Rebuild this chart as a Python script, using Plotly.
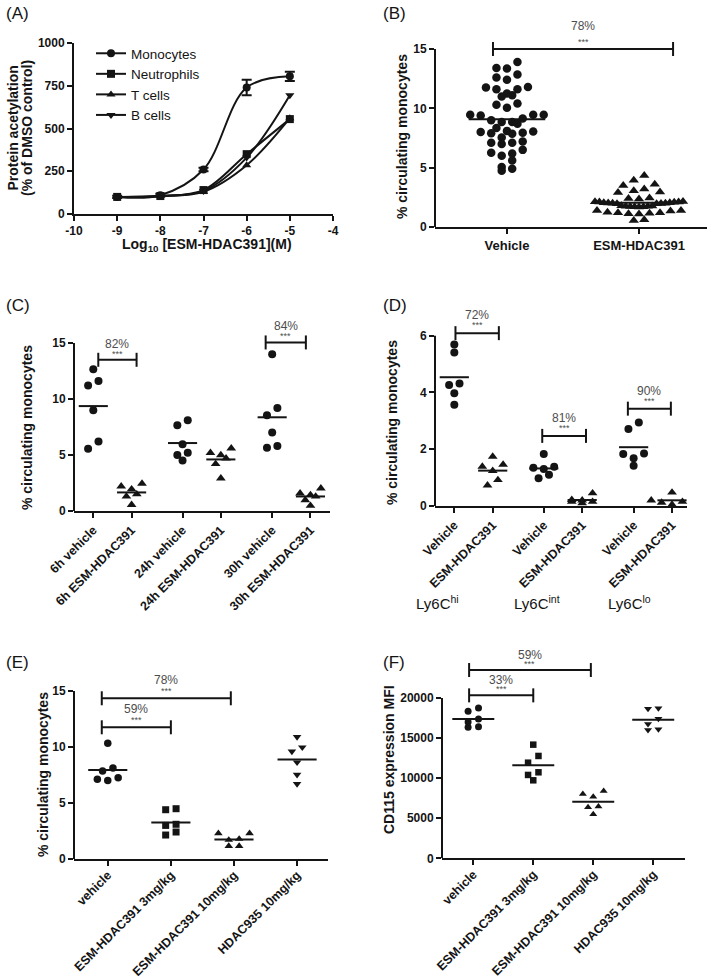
import numpy as np
import plotly.graph_objects as go

W, H = 709, 978
FONT = "Liberation Sans, Arial, Helvetica, sans-serif"
INK = "#141414"
GREY = "#4d4d4d"

# ---------------- data ----------------
# (A) protein acetylation dose response
a_logconc = [-9, -8, -7, -6, -5]
a_monocytes = [100, 110, 260, 740, 805]
a_monocytes_err = [6, 8, 10, 45, 27]
a_neutrophils = [100, 105, 140, 350, 555]
a_tcells = [100, 105, 130, 285, 560]
a_bcells = [100, 105, 135, 330, 695]
a_names = ["Monocytes", "Neutrophils", "T cells", "B cells"]
a_xticks = [-10, -9, -8, -7, -6, -5, -4]
a_yticks = [0, 250, 500, 750, 1000]

# (B) % circulating monocytes, vehicle vs ESM-HDAC391
b_labels = ["Vehicle", "ESM-HDAC391"]
b_vehicle = [13.9, 13.4, 13.35, 12.85, 12.6, 12.4, 11.8, 11.75, 11.6, 11.6, 11.25,
             11.1, 11.0, 10.4, 10.3, 10.05, 9.45, 9.45, 9.45, 9.4, 9.15, 9.0, 8.85,
             8.85, 8.7, 8.35, 8.1, 8.05, 8.0, 7.95, 7.9, 7.85, 7.55, 7.2, 7.1, 7.1,
             7.0, 6.5, 6.25, 6.2, 6.0, 5.6, 5.05, 4.9, 4.75]
b_esm = [4.35, 3.95, 3.6, 3.5, 3.2, 3.05, 2.95, 2.9, 2.45, 2.4, 2.35,
         2.15, 2.12, 2.1, 2.1, 2.08, 2.05, 2.05, 2.03, 2.0, 2.0, 1.98, 1.95, 1.95,
         1.8, 1.78, 1.75, 1.75, 1.72, 1.7, 1.7, 1.68,
         1.4, 1.38, 1.35, 1.25, 1.2, 1.2, 1.15, 1.12, 1.1, 0.62, 0.55]
b_pct = ["78%"]
b_yticks = [0, 5, 10, 15]

# (C) time course
c_labels = ["6h vehicle", "6h ESM-HDAC391", "24h vehicle", "24h ESM-HDAC391",
            "30h vehicle", "30h ESM-HDAC391"]
c_6h_vehicle = [12.65, 11.6, 11.2, 9.0, 6.2, 5.55]
c_6h_esm = [2.45, 2.2, 1.95, 1.5, 1.3, 0.55]
c_24h_vehicle = [8.1, 7.65, 5.95, 5.2, 5.0, 4.5]
c_24h_esm = [5.6, 5.2, 5.0, 4.7, 4.2, 2.92]
c_30h_vehicle = [14.0, 9.2, 8.55, 7.0, 5.8, 5.65]
c_30h_esm = [2.03, 1.58, 1.43, 1.3, 0.98, 0.47]
c_pct = ["82%", "84%"]
c_yticks = [0, 5, 10, 15]

# (D) monocyte subsets
d_labels = ["Vehicle", "ESM-HDAC391", "Vehicle", "ESM-HDAC391", "Vehicle", "ESM-HDAC391"]
d_groups = ["Ly6C<sup>hi</sup>", "Ly6C<sup>int</sup>", "Ly6C<sup>lo</sup>"]
d_hi_vehicle = [5.69, 5.41, 4.32, 4.26, 3.97, 3.57]
d_hi_esm = [1.74, 1.46, 1.39, 1.24, 0.92, 0.73]
d_int_vehicle = [1.83, 1.38, 1.35, 1.3, 1.1, 0.98]
d_int_esm = [0.45, 0.22, 0.2, 0.15, 0.15, 0.1]
d_lo_vehicle = [2.94, 2.71, 1.85, 1.83, 1.68, 1.42]
d_lo_esm = [0.48, 0.2, 0.2, 0.15, 0.12, 0.05]
d_pct = ["72%", "81%", "90%"]
d_yticks = [0, 2, 4, 6]

# (E) dose comparison, % circulating monocytes
e_labels = ["vehicle", "ESM-HDAC391 3mg/kg", "ESM-HDAC391 10mg/kg", "HDAC935 10mg/kg"]
e_vehicle = [10.33, 8.13, 7.86, 7.26, 7.11, 7.02]
e_esm3 = [4.49, 4.40, 3.10, 3.0, 2.41, 2.14]
e_esm10 = [2.29, 2.29, 1.79, 1.70, 1.16, 1.16]
e_hdac935 = [10.9, 9.97, 9.6, 8.63, 7.53, 6.7]
e_pct = ["59%", "78%"]
e_yticks = [0, 5, 10, 15]

# (F) CD115 expression MFI
f_labels = e_labels
f_vehicle = [18750, 18340, 17380, 17010, 16420, 16340]
f_esm3 = [14180, 12770, 11930, 10730, 10400, 9730]
f_esm10 = [8400, 8030, 7690, 6450, 6360, 5490]
f_hdac935 = [18710, 18650, 17420, 16760, 16090, 16010]
f_pct = ["33%", "59%"]
f_yticks = [0, 5000, 10000, 15000, 20000]

# ---------------- helpers ----------------
fig = go.Figure()
shapes, annotations = [], []
layout_axes = {}


def ygeom(px_zero, px_tick, tick_val, px_top):
    scale = (px_zero - px_tick) / tick_val
    return [1 - px_zero / H, 1 - px_top / H], [0, (px_zero - px_top) / scale], scale


def swarm_x(vals, center, ppx, ppy, rowh=7.5, step=10.4, maxw=None):
    order = sorted(range(len(vals)), key=lambda i: -vals[i])
    rows = []
    for i in order:
        if rows and (vals[rows[-1][0]] - vals[i]) * ppy < rowh:
            rows[-1].append(i)
        else:
            rows.append([i])
    xs = [center] * len(vals)
    for r in rows:
        n = len(r)
        st = step if (maxw is None or n < 2) else min(step, maxw / (n - 1))
        r_sorted = sorted(r, key=lambda i: vals[i])
        slots = sorted(range(n), key=lambda k: (abs(k - (n - 1) / 2), k))
        for i, k in zip(r_sorted, slots):
            xs[i] = center + (k - (n - 1) / 2) * st / ppx
    return xs


def tickfont(size):
    return dict(family=FONT, size=size, color=INK, weight="bold")


def set_axes(idx, xpx, xrange, yg, xtickvals, xticktext, xangle, xsize,
             ytickvals, showyline=False, standoff=0):
    sfx = "" if idx == 1 else str(idx)
    ydom, yrng, _ = yg
    layout_axes["xaxis" + sfx] = dict(
        domain=[xpx[0] / W, xpx[1] / W], range=xrange, anchor="y" + sfx,
        showline=True, linecolor=INK, linewidth=2, ticks="outside", ticklen=5,
        tickwidth=2, tickcolor=INK, tickvals=xtickvals, ticktext=xticktext,
        tickangle=xangle, tickfont=tickfont(xsize), showgrid=False, zeroline=False,
        automargin=False, fixedrange=True, ticklabelstandoff=standoff)
    layout_axes["yaxis" + sfx] = dict(
        domain=ydom, range=yrng, anchor="x" + sfx, showline=showyline,
        linecolor=INK, linewidth=2, ticks="outside", ticklen=5, tickwidth=2,
        tickcolor=INK, tickvals=ytickvals, ticktext=[str(v) for v in ytickvals],
        tickfont=tickfont(12), showgrid=False, zeroline=False, automargin=False,
        fixedrange=True)
    if not showyline:
        shapes.append(dict(type="line", xref="x%s domain" % sfx, yref="y" + sfx,
                           x0=0, x1=0, y0=0, y1=ytickvals[-1],
                           line=dict(color=INK, width=2)))


def ppx_of(xpx, xrange):
    return (xpx[1] - xpx[0]) / (xrange[1] - xrange[0])


def add_group(idx, vals, center, symbol, size, ppx, ppy, halfw, maxw=None, step=10.4):
    sfx = "" if idx == 1 else str(idx)
    xs = swarm_x(vals, center, ppx, ppy, step=step, maxw=maxw)
    fig.add_trace(go.Scatter(
        x=xs, y=vals, mode="markers", xaxis="x" + sfx, yaxis="y" + sfx,
        marker=dict(symbol=symbol, size=size, color=INK, line=dict(width=0)),
        cliponaxis=False, showlegend=False, hoverinfo="skip"))
    m = float(np.mean(vals))
    fig.add_trace(go.Scatter(
        x=[center - halfw, center + halfw], y=[m, m], mode="lines",
        xaxis="x" + sfx, yaxis="y" + sfx, line=dict(color=INK, width=2),
        showlegend=False, hoverinfo="skip"))


def add_bracket(idx, x0, x1, y, pct, pct_shift=18, star_shift=7):
    sfx = "" if idx == 1 else str(idx)
    fig.add_trace(go.Scatter(
        x=[x0, x1], y=[y, y], mode="lines+markers", xaxis="x" + sfx, yaxis="y" + sfx,
        line=dict(color=INK, width=2),
        marker=dict(symbol="line-ns", size=10, line=dict(color=INK, width=2)),
        cliponaxis=False, showlegend=False, hoverinfo="skip"))
    xc = (x0 + x1) / 2
    annotations.append(dict(x=xc, y=y, xref="x" + sfx, yref="y" + sfx, text=pct,
                            showarrow=False, yshift=pct_shift, yanchor="middle",
                            font=dict(family=FONT, size=12, color=GREY)))
    annotations.append(dict(x=xc, y=y, xref="x" + sfx, yref="y" + sfx, text="***",
                            showarrow=False, yshift=star_shift, yanchor="middle",
                            font=dict(family=FONT, size=9, color=GREY)))


def text_px(x, y, text, size, bold=False, angle=0, xanchor="center", color=INK):
    annotations.append(dict(
        x=x / W, y=1 - y / H, xref="paper", yref="paper", text=text, showarrow=False,
        textangle=angle, xanchor=xanchor, yanchor="middle",
        font=dict(family=FONT, size=size, color=color,
                  weight="bold" if bold else "normal")))


# ---------------- (A) ----------------
ga = ygeom(214, 43, 1000, 43)
set_axes(1, (74, 333), [-10, -4], ga, a_xticks, [str(v) for v in a_xticks], 0, 12,
         a_yticks, showyline=True)
for name, vals, sym, err in [
        (a_names[0], a_monocytes, "circle", a_monocytes_err),
        (a_names[1], a_neutrophils, "square", None),
        (a_names[2], a_tcells, "triangle-up", None),
        (a_names[3], a_bcells, "triangle-down", None)]:
    fig.add_trace(go.Scatter(
        x=a_logconc, y=vals, name=name, mode="lines+markers",
        line=dict(color=INK, width=2, shape="spline", smoothing=1.0),
        marker=dict(symbol=sym, size=8, color=INK),
        error_y=(dict(type="data", array=err, color=INK, thickness=2, width=5)
                 if err else None),
        cliponaxis=False, xaxis="x", yaxis="y"))

text_px(207, 245, "Log<sub>10</sub> [ESM-HDAC391](M)", 14, bold=True)
text_px(12.5, 128, "Protein acetylation", 14, bold=True, angle=-90)
text_px(27, 128, "(% of DMSO control)", 14, bold=True, angle=-90)

# ---------------- (B) ----------------
gb = ygeom(227, 49, 15, 14)
xb, rb = (435, 707), [-0.545, 1.515]
set_axes(2, xb, rb, gb, [0, 1], b_labels, 0, 13, b_yticks)
ppx, ppy = ppx_of(xb, rb), gb[2]
add_group(2, b_vehicle, 0, "circle", 8.5, ppx, ppy, 0.29, maxw=80, step=10.5)
add_group(2, b_esm, 1, "triangle-up", 9, ppx, ppy, 0.34, maxw=88, step=10.5)
add_bracket(2, -0.106, 1.258, 15, b_pct[0], pct_shift=23, star_shift=7)
text_px(402, 137, "% circulating monocytes", 14, bold=True, angle=-90)

# ---------------- (C) ----------------
gc = ygeom(511, 343, 15, 318)
xc_, rc = (74, 330), [-0.504, 6.18]
c_pos = [0, 1, 2.33, 3.33, 4.67, 5.67]
set_axes(3, xc_, rc, gc, c_pos, c_labels, -45, 12.5, c_yticks)
ppx, ppy = ppx_of(xc_, rc), gc[2]
for pos, vals, sym in zip(c_pos, [c_6h_vehicle, c_6h_esm, c_24h_vehicle, c_24h_esm,
                                  c_30h_vehicle, c_30h_esm],
                          ["circle", "triangle-up"] * 3):
    add_group(3, vals, pos, sym, 8 if sym == "circle" else 8.5, ppx, ppy, 0.38)
add_bracket(3, 0.13, 1.13, 13.5, c_pct[0], pct_shift=16, star_shift=6)
add_bracket(3, 4.5, 5.55, 15.05, c_pct[1], pct_shift=16, star_shift=6)
text_px(27, 428, "% circulating monocytes", 14, bold=True, angle=-90)

# ---------------- (D) ----------------
gd = ygeom(506, 335.7, 6, 312)
xd, rd = (435, 687), [-0.503, 6.06]
d_pos = [0, 1, 2.33, 3.33, 4.67, 5.67]
set_axes(4, xd, rd, gd, d_pos, d_labels, -45, 12.5, d_yticks)
ppx, ppy = ppx_of(xd, rd), gd[2]
for pos, vals, sym in zip(d_pos, [d_hi_vehicle, d_hi_esm, d_int_vehicle, d_int_esm,
                                  d_lo_vehicle, d_lo_esm],
                          ["circle", "triangle-up"] * 3):
    add_group(4, vals, pos, sym, 8 if sym == "circle" else 8.5, ppx, ppy, 0.38)
add_bracket(4, 0.03, 1.16, 6.09, d_pct[0], pct_shift=18, star_shift=8)
add_bracket(4, 2.29, 3.43, 2.47, d_pct[1], pct_shift=18, star_shift=8)
add_bracket(4, 4.52, 5.64, 3.43, d_pct[2], pct_shift=18, star_shift=8)
text_px(392, 423, "% circulating monocytes", 14, bold=True, angle=-90)
for gx, gtxt in zip([437, 537, 629], d_groups):
    text_px(gx, 602, gtxt, 15)

# ---------------- (E) ----------------
ge = ygeom(859, 691, 15, 672)
xe, re_ = (74, 328), [-0.535, 3.49]
set_axes(5, xe, re_, ge, [0, 1, 2, 3], e_labels, -45, 12.5, e_yticks, standoff=-3)
ppx, ppy = ppx_of(xe, re_), ge[2]
for pos, vals, sym in zip([0, 1, 2, 3], [e_vehicle, e_esm3, e_esm10, e_hdac935],
                          ["circle", "square", "triangle-up", "triangle-down"]):
    add_group(5, vals, pos, sym, 7.5 if sym != "square" else 7, ppx, ppy, 0.31)
add_bracket(5, -0.095, 1.0, 11.76, e_pct[0], pct_shift=18, star_shift=7)
add_bracket(5, -0.095, 1.95, 14.35, e_pct[1], pct_shift=18, star_shift=7)
text_px(43, 775, "% circulating monocytes", 14, bold=True, angle=-90)

# ---------------- (F) ----------------
gf = ygeom(858.3, 698, 20000, 640)
xf, rf = (442, 685), [-0.522, 3.53]
set_axes(6, xf, rf, gf, [0, 1, 2, 3], f_labels, -45, 12.5, f_yticks, standoff=-3)
ppx, ppy = ppx_of(xf, rf), gf[2]
for pos, vals, sym in zip([0, 1, 2, 3], [f_vehicle, f_esm3, f_esm10, f_hdac935],
                          ["circle", "square", "triangle-up", "triangle-down"]):
    add_group(6, vals, pos, sym, 7 if sym != "square" else 6.5, ppx, ppy, 0.35)
add_bracket(6, -0.07, 1.0, 20330, f_pct[0], pct_shift=15, star_shift=6)
add_bracket(6, -0.07, 1.96, 23490, f_pct[1], pct_shift=15, star_shift=6)
text_px(389, 760, "CD115 expression MFI", 14, bold=True, angle=-90)

# ---------------- panel letters ----------------
for x, y, t in [(4, 14, "(A)"), (381, 14, "(B)"), (4, 305, "(C)"), (381, 305, "(D)"),
                (4, 662, "(E)"), (381, 662, "(F)")]:
    text_px(x, y, t, 17, xanchor="left")

fig.update_layout(
    width=W, height=H, margin=dict(l=0, r=0, t=0, b=0),
    paper_bgcolor="white", plot_bgcolor="white",
    font=dict(family=FONT, color=INK),
    showlegend=True,
    legend=dict(x=91 / W, y=1 - 38 / H, xanchor="left", yanchor="top",
                bgcolor="rgba(0,0,0,0)", font=dict(family=FONT, size=13.5, color=INK),
                tracegroupgap=0, itemwidth=30),
    shapes=shapes, annotations=annotations, **layout_axes)

fig.write_html("out.html", config={"displayModeBar": False},
               post_script="document.body.style.margin='0';document.body.style.padding='0';")
